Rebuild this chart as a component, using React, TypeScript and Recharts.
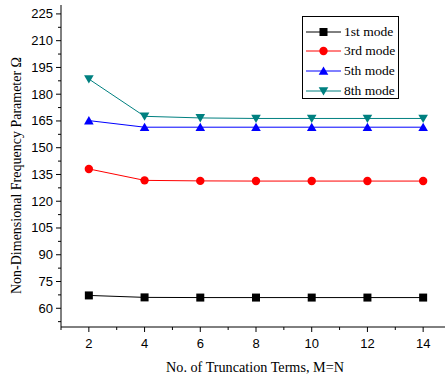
import React from 'react';
import { LineChart, Line, XAxis, YAxis, Label } from 'recharts';

const terms = [2, 4, 6, 8, 10, 12, 14];
const mode1 = [67.2, 66.1, 66.0, 66.0, 66.0, 66.0, 66.0];
const mode3 = [138.1, 131.7, 131.4, 131.3, 131.3, 131.3, 131.3];
const mode5 = [165.2, 161.5, 161.5, 161.5, 161.5, 161.5, 161.5];
const mode8 = [188.5, 167.6, 166.7, 166.4, 166.4, 166.4, 166.4];

const yMajorTicks = [60, 75, 90, 105, 120, 135, 150, 165, 180, 195, 210, 225];
const yMinorTicks = [52.5, 67.5, 82.5, 97.5, 112.5, 127.5, 142.5, 157.5, 172.5, 187.5, 202.5, 217.5];
const xMajorTicks = [2, 4, 6, 8, 10, 12, 14];
const xMinorTicks = [1, 3, 5, 7, 9, 11, 13, 15];

const yAllTicks = [...yMinorTicks, ...yMajorTicks].sort((a, b) => a - b);
const xAllTicks = [...xMinorTicks, ...xMajorTicks].sort((a, b) => a - b);

const series = [
  { key: 'm1', name: '1st mode', color: '#000000', shape: 'square', values: mode1 },
  { key: 'm3', name: '3rd mode', color: '#ff0000', shape: 'circle', values: mode3 },
  { key: 'm5', name: '5th mode', color: '#0000ff', shape: 'up', values: mode5 },
  { key: 'm8', name: '8th mode', color: '#008080', shape: 'down', values: mode8 },
];

const data = terms.map((t, i) => {
  const row: any = { x: t };
  series.forEach((s) => { row[s.key] = s.values[i]; });
  return row;
});

const Marker = ({ cx, cy, shape, color }: any) => {
  if (cx == null || cy == null) return null;
  if (shape === 'square') return <rect x={cx - 4} y={cy - 4} width={8} height={8} fill={color} />;
  if (shape === 'circle') return <circle cx={cx} cy={cy} r={4.2} fill={color} />;
  if (shape === 'up') return <polygon points={`${cx},${cy - 4.5} ${cx + 4.8},${cy + 3.8} ${cx - 4.8},${cy + 3.8}`} fill={color} />;
  return <polygon points={`${cx},${cy + 4.5} ${cx + 4.8},${cy - 3.8} ${cx - 4.8},${cy - 3.8}`} fill={color} />;
};

const serif = '"Liberation Serif", "Times New Roman", serif';
const sans = '"Liberation Sans", Arial, sans-serif';

const TICK = 5;

const YTick = ({ x, y, payload }: any) => {
  const v = payload.value;
  const major = yMajorTicks.includes(v);
  return (
    <g>
      <line x1={major ? x : x + 2} y1={y} x2={x + TICK} y2={y} stroke="#000" strokeWidth={1} />
      {major && (
        <text x={x - 3} y={y} textAnchor="end" dominantBaseline="central"
          style={{ fontFamily: sans, fontSize: 13, fill: '#000' }}>{v}</text>
      )}
    </g>
  );
};

const XTick = ({ x, y, payload }: any) => {
  const v = payload.value;
  const major = xMajorTicks.includes(v);
  return (
    <g>
      <line x1={x} y1={y - TICK} x2={x} y2={major ? y : y - 2} stroke="#000" strokeWidth={1} />
      {major && (
        <text x={x} y={y + 11} textAnchor="middle" dominantBaseline="central"
          style={{ fontFamily: sans, fontSize: 13, fill: '#000' }}>{v}</text>
      )}
    </g>
  );
};

const LegendBox = () => (
  <div style={{ position: 'absolute', left: 302, top: 16, border: '1px solid #000', background: '#fff', width: 97, height: 83, boxSizing: 'border-box', padding: '5px 0 0 3px' }}>
    {series.map((s) => (
      <div key={s.key} style={{ display: 'flex', alignItems: 'center', height: 19.6 }}>
        <svg width={36} height={12}>
          <line x1={0} y1={6} x2={35} y2={6} stroke={s.color} strokeWidth={1} />
          <Marker cx={17.5} cy={6} shape={s.shape} color={s.color} />
        </svg>
        <span style={{ fontFamily: serif, fontSize: 13.5, color: '#000', marginLeft: 2, lineHeight: '14px' }}>{s.name}</span>
      </div>
    ))}
  </div>
);

const YTitle = ({ viewBox }: any) => {
  const cy = viewBox.y + viewBox.height / 2 + 9.5;
  const cx = viewBox.x + 16;
  return (
    <text x={cx} y={cy} transform={`rotate(-90, ${cx}, ${cy})`} textAnchor="middle" dominantBaseline="central"
      style={{ fontFamily: serif, fontSize: 14, fill: '#000' }}>
      Non-Dimensional Frequency Parameter Ω
    </text>
  );
};

const XTitle = ({ viewBox }: any) => {
  const cx = viewBox.x + viewBox.width / 2 - 1;
  return (
    <text x={cx} y={viewBox.y + 40} textAnchor="middle" dominantBaseline="central"
      style={{ fontFamily: serif, fontSize: 14.2, fill: '#000' }}>
      No. of Truncation Terms, M=N
    </text>
  );
};

export default function App() {
  return (
    <div style={{ position: 'absolute', left: 0, top: 0, width: 445, height: 378, overflow: 'hidden', background: '#fff' }}>
      <LineChart width={460} height={378} data={data} margin={{ top: 5, right: 9, left: 0, bottom: 0 }}>
        <XAxis dataKey="x" type="number" domain={[1, 15]} ticks={xAllTicks} height={51}
          axisLine={{ stroke: '#000', strokeWidth: 1 }} tickLine={false} tickSize={TICK} tickMargin={0}
          tick={<XTick />} interval={0} allowDataOverflow>
          <Label content={<XTitle />} />
        </XAxis>
        <YAxis type="number" domain={[49.5, 230]} ticks={yAllTicks} width={61}
          axisLine={{ stroke: '#000', strokeWidth: 1 }} tickLine={false} tickSize={TICK} tickMargin={0}
          tick={<YTick />} interval={0} allowDataOverflow>
          <Label content={<YTitle />} />
        </YAxis>
        {series.map((s) => (
          <Line key={s.key} dataKey={s.key} name={s.name} stroke={s.color} strokeWidth={1}
            isAnimationActive={false} dot={(p: any) => <Marker key={`${s.key}-${p.index}`} cx={p.cx} cy={p.cy} shape={s.shape} color={s.color} />}
            activeDot={false} />
        ))}
      </LineChart>
      <LegendBox />
    </div>
  );
}
